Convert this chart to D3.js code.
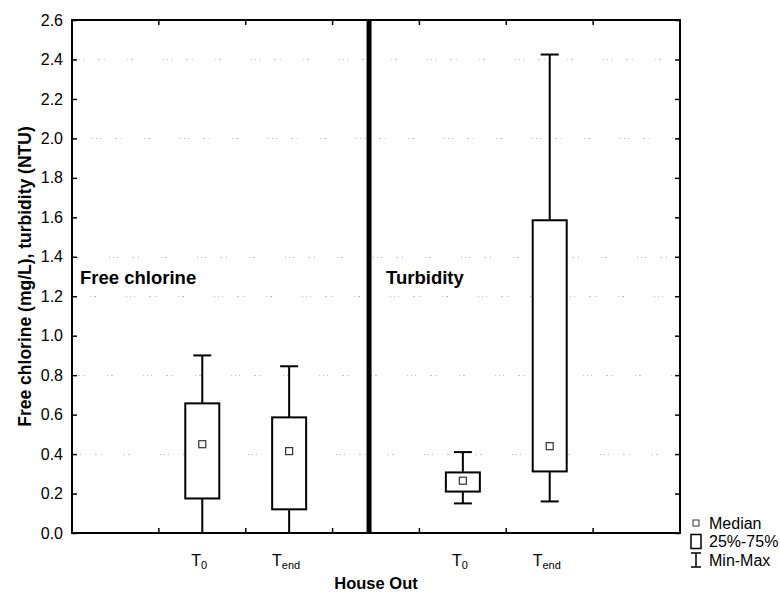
<!DOCTYPE html>
<html>
<head>
<meta charset="utf-8">
<script src="https://cdn.jsdelivr.net/npm/d3@7"></script>
<style>
  html, body { margin: 0; padding: 0; background: #fff; }
  svg { display: block; font-family: "Liberation Sans", Arial, sans-serif; }
</style>
</head>
<body>
<svg id="chart" width="780" height="595"></svg>
<script>
// Box summaries for the "House Out" samples, one entry per box
const parameters = ["Free chlorine", "Turbidity"];
const sampleTimes = ["T0", "Tend"];
const boxParameter = ["Free chlorine", "Free chlorine", "Turbidity", "Turbidity"];
const boxTime = ["T0", "Tend", "T0", "Tend"];
const minValues = [0.00, 0.00, 0.15, 0.16];
const q1Values = [0.175, 0.12, 0.21, 0.312];
const medianValues = [0.45, 0.415, 0.265, 0.44];
const q3Values = [0.657, 0.586, 0.307, 1.585];
const maxValues = [0.90, 0.845, 0.41, 2.425];
const yTicks = [0.0, 0.2, 0.4, 0.6, 0.8, 1.0, 1.2, 1.4, 1.6, 1.8, 2.0, 2.2, 2.4, 2.6];
const gridValues = [0.4, 0.8, 1.2, 1.4, 2.0, 2.4];
const legendItems = ["Median", "25%-75%", "Min-Max"];

const svg = d3.select("#chart");
const margin = { top: 20, right: 100, bottom: 62, left: 72 };
const W = 780, H = 595;
const plotW = W - margin.left - margin.right;
const plotH = H - margin.top - margin.bottom;
const g = svg.append("g").attr("transform", `translate(${margin.left},${margin.top})`);

// Slots along x: an empty slot on either side and one between the two parameters
const slots = ["padL"];
parameters.forEach((p, i) => {
  sampleTimes.forEach(t => slots.push(p + "|" + t));
  if (i < parameters.length - 1) slots.push("gap");
});
slots.push("padR");

const x = d3.scaleBand().domain(slots).range([0, plotW]).paddingInner(0).paddingOuter(0);
const y = d3.scaleLinear().domain([0, 2.6]).range([plotH, 0]);

// Faint, broken dotted grid
g.append("g").selectAll("line").data(gridValues).join("line")
  .attr("x1", 0).attr("x2", plotW)
  .attr("y1", d => Math.round(y(d)) + 0.5).attr("y2", d => Math.round(y(d)) + 0.5)
  .attr("stroke", "#aaa").attr("stroke-width", 1)
  .attr("stroke-dasharray", "1,3,1,3,1,14,2,4,1,22,1,3,2,30")
  .attr("stroke-dashoffset", (d, i) => i * 17)
  .attr("opacity", 0.75);

// Left axis with inward ticks
const yAxis = d3.axisLeft(y).tickValues(yTicks).tickFormat(d3.format(".1f"))
  .tickSizeInner(-5).tickSizeOuter(0).tickPadding(9);
const ya = g.append("g").call(yAxis);
ya.select(".domain").remove();
ya.selectAll(".tick line").attr("stroke", "#000").attr("stroke-width", 1.5);
ya.selectAll(".tick text").attr("font-size", 16).attr("fill", "#000");

// Right border ticks
const yRight = d3.axisRight(y).tickValues(yTicks).tickFormat("").tickSizeInner(-5).tickSizeOuter(0);
const yr = g.append("g").attr("transform", `translate(${plotW},0)`).call(yRight);
yr.select(".domain").remove();
yr.selectAll(".tick line").attr("stroke", "#000").attr("stroke-width", 1.5);

// Category boundary ticks on top and bottom
const boundaries = slots.slice(1).map(s => x(s));
g.append("g").selectAll("line").data(boundaries).join("line")
  .attr("x1", d => d).attr("x2", d => d).attr("y1", 0).attr("y2", 5)
  .attr("stroke", "#000").attr("stroke-width", 1.5);
g.append("g").selectAll("line").data(boundaries).join("line")
  .attr("x1", d => d).attr("x2", d => d).attr("y1", plotH).attr("y2", plotH - 5)
  .attr("stroke", "#000").attr("stroke-width", 1.5);

// Plot frame
g.append("rect").attr("x", 0).attr("y", 0).attr("width", plotW).attr("height", plotH)
  .attr("fill", "none").attr("stroke", "#000").attr("stroke-width", 2);

// Heavy separator between the two parameters
const sepX = x("gap") + x.bandwidth() * 0.42;
g.append("line").attr("x1", sepX).attr("x2", sepX).attr("y1", 0).attr("y2", plotH)
  .attr("stroke", "#000").attr("stroke-width", 5);

// Parameter captions
const captionY = y(1.26);
g.append("text").attr("x", 8).attr("y", captionY)
  .attr("font-size", 18.5).attr("font-weight", "bold").text(parameters[0]);
g.append("text").attr("x", sepX + 17).attr("y", captionY)
  .attr("font-size", 18.5).attr("font-weight", "bold").text(parameters[1]);

// Boxes
const boxes = boxParameter.map((p, i) => ({
  key: p + "|" + boxTime[i], time: boxTime[i],
  min: minValues[i], q1: q1Values[i], med: medianValues[i], q3: q3Values[i], max: maxValues[i]
}));
const boxW = 34, capW = 18, medS = 7;
const bg = g.append("g").selectAll("g").data(boxes).join("g")
  .attr("transform", d => `translate(${x(d.key) + x.bandwidth() / 2},0)`);
bg.append("line").attr("x1", 0).attr("x2", 0)
  .attr("y1", d => y(d.max)).attr("y2", d => y(d.min))
  .attr("stroke", "#000").attr("stroke-width", 2);
bg.append("line").attr("x1", -capW / 2).attr("x2", capW / 2)
  .attr("y1", d => y(d.max)).attr("y2", d => y(d.max))
  .attr("stroke", "#000").attr("stroke-width", 2);
bg.append("line").attr("x1", -capW / 2).attr("x2", capW / 2)
  .attr("y1", d => y(d.min)).attr("y2", d => y(d.min))
  .attr("stroke", "#000").attr("stroke-width", 2);
bg.append("rect").attr("x", -boxW / 2).attr("width", boxW)
  .attr("y", d => y(d.q3)).attr("height", d => y(d.q1) - y(d.q3))
  .attr("fill", "#fff").attr("stroke", "#000").attr("stroke-width", 2);
bg.append("rect").attr("x", -medS / 2).attr("width", medS)
  .attr("y", d => y(d.med) - medS / 2).attr("height", medS)
  .attr("fill", "#fff").attr("stroke", "#333").attr("stroke-width", 1.2);

// X category labels with subscripts
const xl = g.append("g").selectAll("text").data(boxes).join("text")
  .attr("x", d => x(d.key) + x.bandwidth() / 2 - 3)
  .attr("y", plotH + 33)
  .attr("text-anchor", "middle").attr("font-size", 16);
xl.append("tspan").text("T");
xl.append("tspan").attr("font-size", 11).attr("dy", 3).text(d => d.time.slice(1));

// Axis titles
g.append("text").attr("x", plotW / 2).attr("y", plotH + 56)
  .attr("text-anchor", "middle").attr("font-size", 16.5).attr("font-weight", "bold").text("House Out");
svg.append("text")
  .attr("transform", `translate(${31},${margin.top + plotH / 2}) rotate(-90)`)
  .attr("text-anchor", "middle").attr("font-size", 17.5).attr("font-weight", "bold")
  .text("Free chlorine (mg/L), turbidity (NTU)");

// Legend
const lg = svg.append("g").attr("transform", `translate(${margin.left + plotW + 10},${margin.top + plotH - 10})`);
const rowH = 18.5;
lg.append("rect").attr("x", 3).attr("y", -3).attr("width", 6).attr("height", 6)
  .attr("fill", "#fff").attr("stroke", "#333").attr("stroke-width", 1);
lg.append("rect").attr("x", 1).attr("y", rowH - 7).attr("width", 10).attr("height", 14)
  .attr("fill", "#fff").attr("stroke", "#000").attr("stroke-width", 1.5);
const mmY = rowH * 2;
lg.append("line").attr("x1", 6).attr("x2", 6).attr("y1", mmY - 7).attr("y2", mmY + 7).attr("stroke", "#000").attr("stroke-width", 1.5);
lg.append("line").attr("x1", 1).attr("x2", 11).attr("y1", mmY - 7).attr("y2", mmY - 7).attr("stroke", "#000").attr("stroke-width", 1.5);
lg.append("line").attr("x1", 1).attr("x2", 11).attr("y1", mmY + 7).attr("y2", mmY + 7).attr("stroke", "#000").attr("stroke-width", 1.5);
lg.selectAll("text").data(legendItems).join("text")
  .attr("x", 19).attr("y", (d, i) => i * rowH).attr("dy", "0.35em")
  .attr("font-size", 16).text(d => d);
</script>
</body>
</html>
